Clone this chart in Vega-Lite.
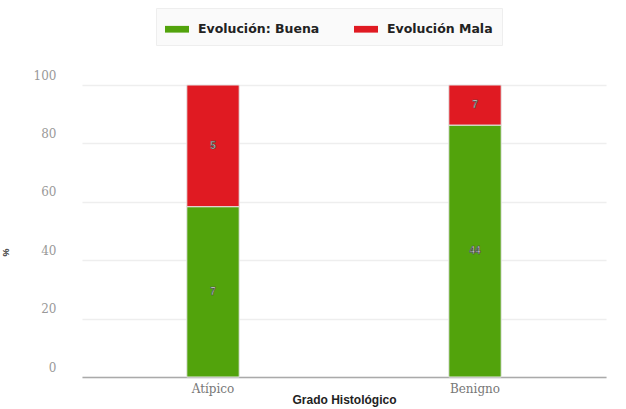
{
  "$schema": "https://vega.github.io/schema/vega-lite/v6.json",
  "autosize": {"type": "none"},
  "padding": {"left": 82, "top": 85, "right": 20, "bottom": 32},
  "width": 524,
  "height": 292,
  "background": "#ffffff",
  "config": {
    "view": {"stroke": null},
    "font": "Liberation Sans"
  },
  "data": {
    "values": [
      {"grado": "Atípico", "evolucion": "Evolución: Buena", "n": 7},
      {"grado": "Atípico", "evolucion": "Evolución Mala", "n": 5},
      {"grado": "Benigno", "evolucion": "Evolución: Buena", "n": 44},
      {"grado": "Benigno", "evolucion": "Evolución Mala", "n": 7}
    ]
  },
  "encoding": {
    "x": {
      "field": "grado",
      "type": "nominal",
      "scale": {"paddingInner": 0.8, "paddingOuter": 0.4},
      "axis": {
        "title": "Grado Histológico",
        "titleFont": "Liberation Sans",
        "titleFontSize": 12,
        "titleFontWeight": "bold",
        "titleColor": "#222222",
        "titlePadding": 0,
        "labelAngle": 0,
        "labelFont": "DejaVu Serif",
        "labelFontSize": 12,
        "labelColor": "#777777",
        "labelPadding": 6,
        "ticks": false,
        "domainColor": "#aaaaaa",
        "domainWidth": 1.5,
        "grid": false
      }
    },
    "y": {
      "aggregate": "sum",
      "field": "n",
      "type": "quantitative",
      "stack": "normalize",
      "scale": {"domain": [0, 1]},
      "axis": {
        "title": "%",
        "titleFontSize": 9,
        "titleColor": "#333333",
        "titleX": -72,
        "titleY": 167,
        "values": [0, 0.2, 0.4, 0.6, 0.8, 1],
        "labelExpr": "format(datum.value * 100, 'd')",
        "labelFont": "DejaVu Serif",
        "labelFontSize": 12,
        "labelColor": "#999999",
        "labelPadding": 26,
        "labelOffset": -10,
        "ticks": false,
        "domain": false,
        "grid": true,
        "gridColor": "#eeeeee",
        "gridWidth": 1.5
      }
    },
    "order": {"field": "evolucion", "sort": "descending"}
  },
  "layer": [
    {
      "mark": {"type": "bar", "stroke": "#e6e6e6", "strokeWidth": 1},
      "encoding": {
        "color": {
          "field": "evolucion",
          "type": "nominal",
          "scale": {
            "domain": ["Evolución: Buena", "Evolución Mala"],
            "range": ["#52a30c", "#e01a22"]
          },
          "legend": {
            "title": null,
            "orient": "none",
            "direction": "horizontal",
            "legendX": 74,
            "legendY": -77,
            "padding": 9,
            "fillColor": "#fafafa",
            "strokeColor": "#eeeeee",
            "symbolType": "M-1,-0.28H1V0.28H-1Z",
            "symbolSize": 576,
            "symbolStrokeWidth": 0,
            "labelFont": "DejaVu Sans",
            "labelFontSize": 12.5,
            "labelFontWeight": "bold",
            "labelColor": "#222222",
            "labelOffset": 9,
            "columnPadding": 34
          }
        }
      }
    },
    {
      "mark": {
        "type": "text",
        "fontSize": 10,
        "fontWeight": "bold",
        "fill": "#dddddd",
        "stroke": "#444444",
        "strokeWidth": 0.6
      },
      "encoding": {
        "y": {
          "aggregate": "sum",
          "field": "n",
          "type": "quantitative",
          "stack": "normalize",
          "bandPosition": 0.5
        },
        "detail": {"field": "evolucion"},
        "text": {"aggregate": "sum", "field": "n", "type": "quantitative"}
      }
    }
  ]
}
